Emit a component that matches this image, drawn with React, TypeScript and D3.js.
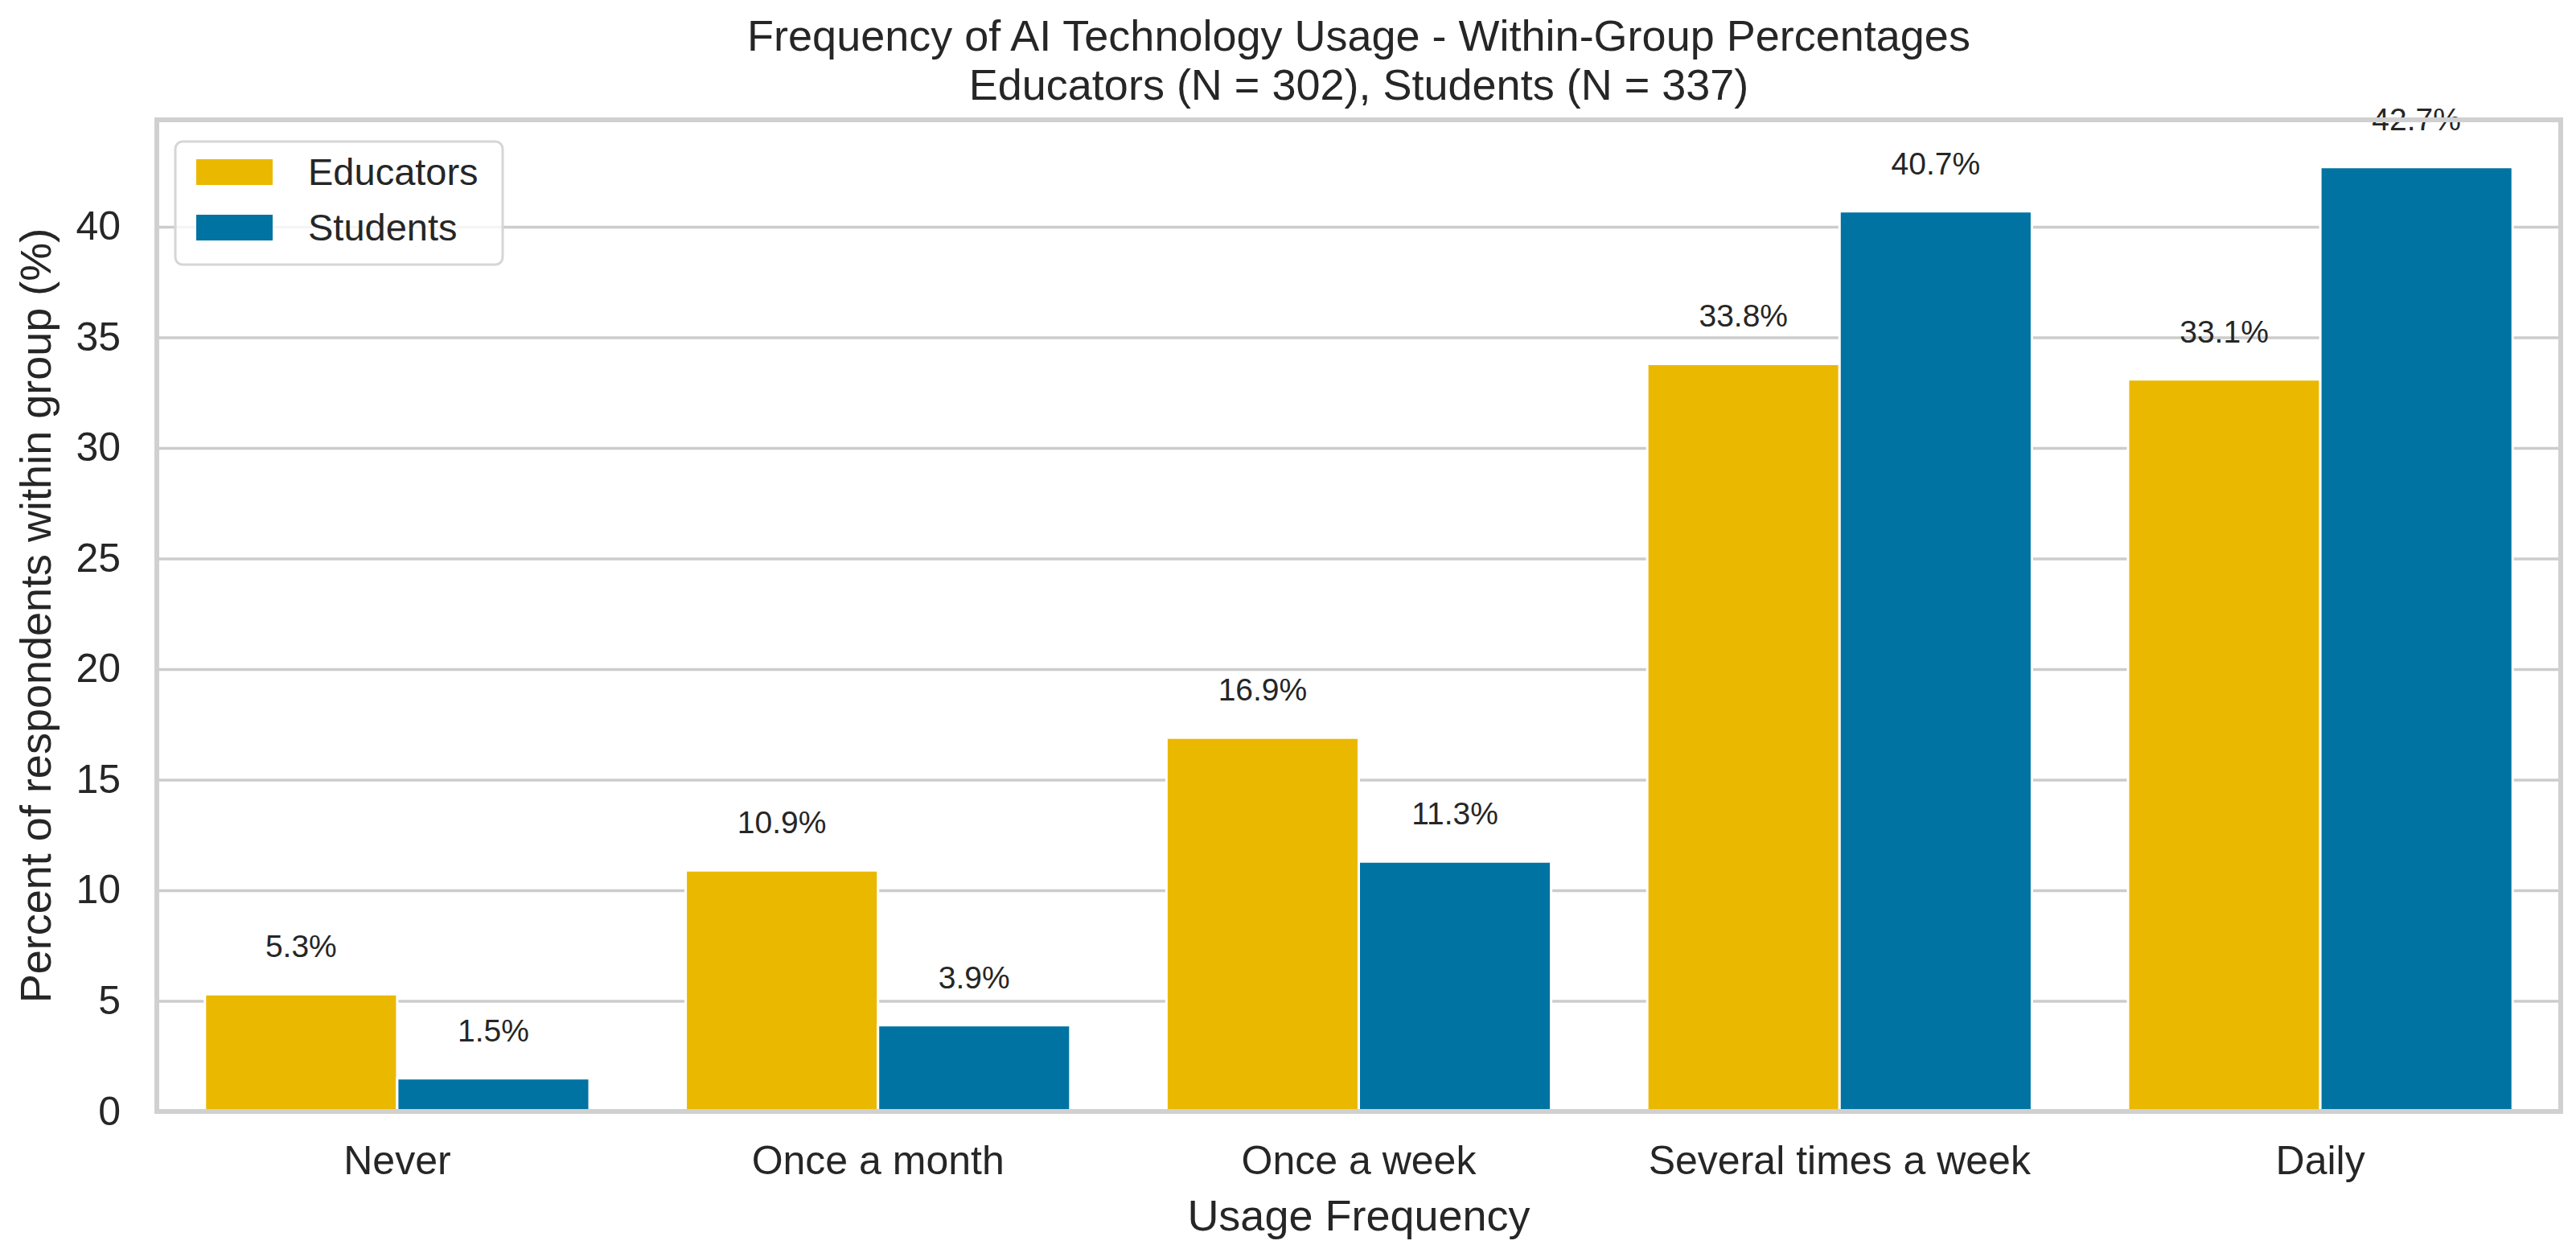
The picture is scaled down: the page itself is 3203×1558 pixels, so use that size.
import * as d3 from "d3";
import { useEffect, useRef } from "react";

const categories = [
  "Never",
  "Once a month",
  "Once a week",
  "Several times a week",
  "Daily",
];
const groups = ["Educators", "Students"];
const educators = [5.3, 10.9, 16.9, 33.8, 33.1];
const students = [1.5, 3.9, 11.3, 40.7, 42.7];
const yTicks = [0, 5, 10, 15, 20, 25, 30, 35, 40];
const colors = ["#ebb800", "#0173a2"];
const titleLines = [
  "Frequency of AI Technology Usage - Within-Group Percentages",
  "Educators (N = 302), Students (N = 337)",
];
const xLabel = "Usage Frequency";
const yLabel = "Percent of respondents within group (%)";

const width = 3203;
const height = 1558;
const margin = { top: 149, right: 19, bottom: 176, left: 195 };
const font = "'Liberation Sans', Arial, sans-serif";
const textColor = "#262626";
const gridColor = "#cccccc";

const App = () => {
  const xAxisRef = useRef<SVGGElement>(null);
  const yAxisRef = useRef<SVGGElement>(null);

  const series = groups.map((name, i) => ({
    name,
    values: i === 0 ? educators : students,
    color: colors[i],
  }));

  const yMax = (d3.max([...educators, ...students]) ?? 0) * 1.05;
  const x0 = d3
    .scaleBand(categories, [margin.left, width - margin.right])
    .paddingInner(0.2)
    .paddingOuter(0.1);
  const x1 = d3.scaleBand(groups, [0, x0.bandwidth()]);
  const y = d3.scaleLinear([0, yMax], [height - margin.bottom, margin.top]);
  const plotW = width - margin.left - margin.right;
  const plotH = height - margin.top - margin.bottom;
  const cx = margin.left + plotW / 2;

  useEffect(() => {
    const gy = d3.select(yAxisRef.current);
    gy.call(
      d3.axisLeft(y).tickValues(yTicks).tickSize(-plotW).tickPadding(45)
    );
    gy.attr("font-size", 50).attr("font-family", font);
    gy.select(".domain").remove();
    gy.selectAll(".tick line")
      .attr("stroke", gridColor)
      .attr("stroke-width", 3.5);
    gy.selectAll(".tick text").attr("fill", textColor);

    const gx = d3.select(xAxisRef.current);
    gx.call(d3.axisBottom(x0).tickSize(0).tickPadding(42));
    gx.attr("font-size", 50).attr("font-family", font);
    gx.select(".domain").remove();
    gx.selectAll(".tick text").attr("fill", textColor);
  }, [x0, y, plotW]);

  return (
    <svg
      width={width}
      height={height}
      style={{ position: "absolute", left: 0, top: 0, background: "#fff" }}
      fontFamily={font}
    >
      {/* grid + y tick labels */}
      <g ref={yAxisRef} transform={`translate(${margin.left},0)`} />

      {/* bars */}
      {series.map((s) => (
        <g key={s.name}>
          {s.values.map((v, i) => (
            <rect
              key={categories[i]}
              x={(x0(categories[i]) ?? 0) + (x1(s.name) ?? 0)}
              y={y(v)}
              width={x1.bandwidth()}
              height={y(0) - y(v)}
              fill={s.color}
              stroke="#ffffff"
              strokeWidth={3}
            />
          ))}
        </g>
      ))}

      {/* value labels */}
      {series.map((s) => (
        <g key={s.name + "-lbl"}>
          {s.values.map((v, i) => (
            <text
              key={categories[i]}
              x={(x0(categories[i]) ?? 0) + (x1(s.name) ?? 0) + x1.bandwidth() / 2}
              y={y(v) - 46}
              textAnchor="middle"
              fontSize={39}
              fill={textColor}
            >
              {v.toFixed(1)}%
            </text>
          ))}
        </g>
      ))}

      {/* frame */}
      <rect
        x={margin.left}
        y={margin.top}
        width={plotW}
        height={plotH}
        fill="none"
        stroke="#d0d0d0"
        strokeWidth={6}
      />

      <g ref={xAxisRef} transform={`translate(0,${height - margin.bottom})`} />

      {/* legend */}
      <g>
        <rect
          x={218}
          y={176}
          width={407}
          height={153}
          rx={9}
          fill="#ffffff"
          fillOpacity={0.8}
          stroke="#d6d6d6"
          strokeWidth={3}
        />
        {series.map((s, i) => (
          <g key={s.name} transform={`translate(0,${i * 69})`}>
            <rect x={244} y={198} width={95} height={32} fill={s.color} />
            <text x={383} y={230} fontSize={47} fill={textColor}>
              {s.name}
            </text>
          </g>
        ))}
      </g>

      {/* titles */}
      {titleLines.map((t, i) => (
        <text
          key={t}
          x={cx}
          y={63 + i * 61}
          textAnchor="middle"
          fontSize={54}
          fill={textColor}
        >
          {t}
        </text>
      ))}
      <text x={cx} y={1530} textAnchor="middle" fontSize={54} fill={textColor}>
        {xLabel}
      </text>
      <text
        transform={`translate(63,${margin.top + plotH / 2}) rotate(-90)`}
        textAnchor="middle"
        fontSize={54}
        fill={textColor}
      >
        {yLabel}
      </text>
    </svg>
  );
};

export default App;
